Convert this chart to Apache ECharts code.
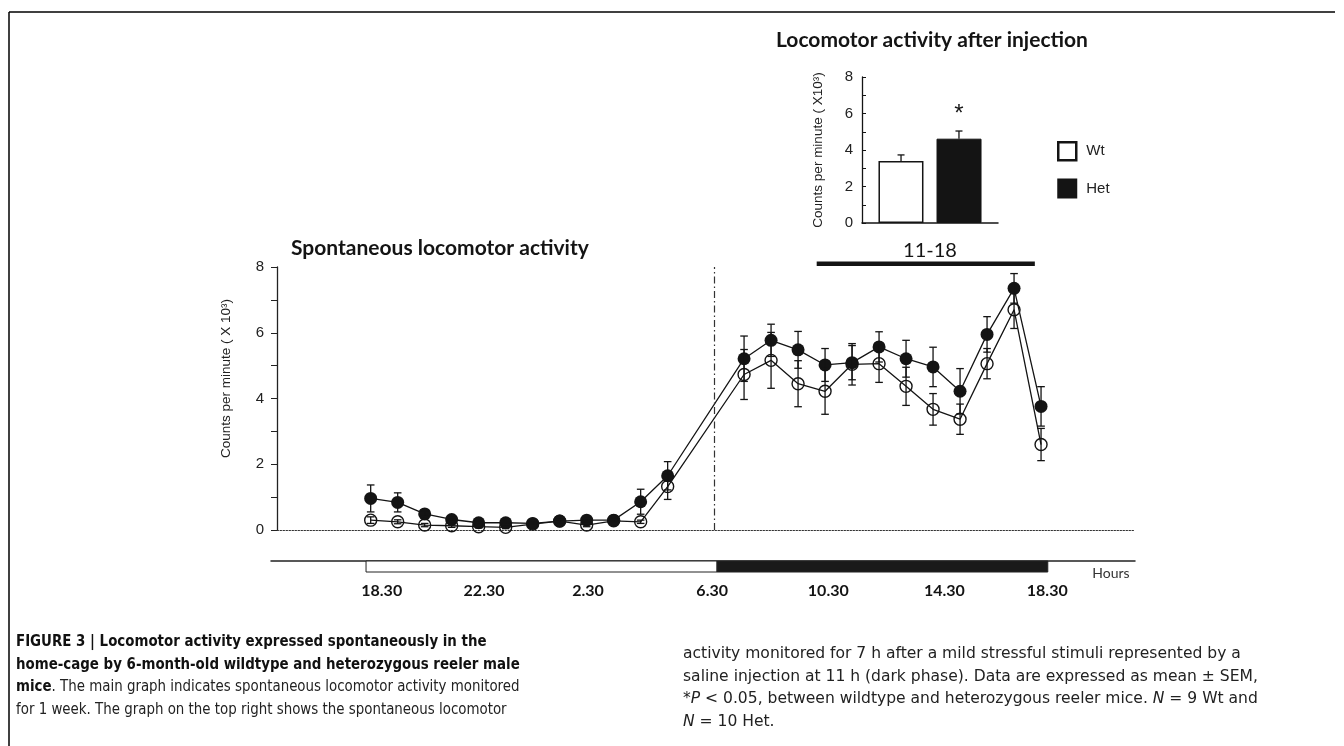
<!DOCTYPE html>
<html><head><meta charset="utf-8">
<script src="https://cdn.jsdelivr.net/npm/echarts@6/dist/echarts.min.js"></script>
<style>html,body{margin:0;padding:0;background:#fff}#c{width:1344px;height:746px}</style>
</head><body><div id="c"></div>
<script>
// ---------- DATA ----------
// plotted time positions (hours on the drawn scale, first point = 0)
const timePoints = [0,1,2,3,4,5,6,7,8,9,10,11, 13.83,14.83,15.83,16.83,17.83,18.83,19.83,20.83,21.83,22.83,23.83,24.83];
const hetMean = [0.96,0.84,0.49,0.32,0.22,0.22,0.20,0.27,0.30,0.30,0.86,1.65, 5.21,5.77,5.48,5.02,5.09,5.57,5.21,4.96,4.22,5.95,7.35,3.76];
const hetSem  = [0.41,0.29,0.08,0.06,0.05,0.05,0.05,0.05,0.05,0.05,0.38,0.43, 0.69,0.49,0.56,0.50,0.52,0.46,0.56,0.60,0.69,0.54,0.45,0.60];
const wtMean  = [0.30,0.25,0.15,0.13,0.10,0.08,0.18,0.27,0.15,0.28,0.25,1.32, 4.73,5.16,4.45,4.22,5.04,5.06,4.37,3.67,3.37,5.06,6.70,2.60];
const wtSem   = [0.10,0.06,0.05,0.05,0.04,0.04,0.04,0.05,0.05,0.04,0.05,0.39, 0.76,0.85,0.70,0.70,0.63,0.57,0.58,0.48,0.46,0.46,0.57,0.49];
const injectionTime = 12.71;          // dash-dot line
const window1118 = [16.52, 24.6];     // 11-18 bar span
const window1118Level = 8.1;
// light/dark phase bar
const phases = [
  {name: 'light', start: -0.17, end: 12.83},
  {name: 'dark',  start: 12.83, end: 25.08}
];
const hourTickAt = [0.41, 4.2, 8.05, 12.65, 16.95, 21.25, 25.06];
const hourTickLabels = ['18.30','22.30','2.30','6.30','10.30','14.30','18.30'];
// inset
const insetCategories = ['11-18'];
const insetGroups = ['Wt','Het'];
const insetMean = [3.40, 4.62];
const insetSem  = [0.33, 0.42];
const insetSig  = ['', '*'];
// ---------- CHART ----------
const chart = echarts.init(document.getElementById('c'), null, {renderer: 'canvas'});
const INK = '#141414';
const sansFont = 'Liberation Sans, Arial, sans-serif';
const titleFont = 'Lato, Open Sans, sans-serif';
const capFont = 'Liberation Sans Narrow, DejaVu Sans Condensed, sans-serif';

function errRender(params, api) {
  const x = api.value(0), lo = api.value(1), hi = api.value(2);
  const a = api.coord([x, lo]), b = api.coord([x, hi]);
  const cap = 3.8;
  const st = {stroke: INK, lineWidth: 1.3};
  return {type: 'group', children: [
    {type: 'line', shape: {x1: a[0], y1: a[1], x2: b[0], y2: b[1]}, style: st},
    {type: 'line', shape: {x1: b[0]-cap, y1: b[1], x2: b[0]+cap, y2: b[1]}, style: st},
    {type: 'line', shape: {x1: a[0]-cap, y1: a[1], x2: a[0]+cap, y2: a[1]}, style: st}
  ]};
}
function insetErrRender(params, api) {
  const cat = api.value(0), m = api.value(1), s = api.value(2), g = api.value(3);
  const band = api.size([1, 0])[0];
  const off = (g === 0 ? -1 : 1) * band * 0.213;
  const a = api.coord([cat, m]), b = api.coord([cat, m + s]);
  const x = a[0] + off;
  const st = {stroke: INK, lineWidth: 1.3};
  const children = [
    {type: 'line', shape: {x1: x, y1: a[1], x2: x, y2: b[1]}, style: st},
    {type: 'line', shape: {x1: x-3.5, y1: b[1], x2: x+3.5, y2: b[1]}, style: st}
  ];
  const sig = insetSig[params.dataIndex];
  if (sig) children.push({type: 'text', x: x, y: b[1] - 17, style: {text: sig, fill: INK, font: '24px ' + sansFont, align: 'center', verticalAlign: 'middle'}});
  return {type: 'group', children};
}

const option = {
  animation: false,
  backgroundColor: '#fff',
  title: [
    {text: 'Spontaneous locomotor activity', left: 291, top: 238, padding: 0,
     textStyle: {fontFamily: titleFont, fontWeight: 'bold', fontSize: 21, color: INK}},
    {text: 'Locomotor activity after injection', left: 776, top: 30, padding: 0,
     textStyle: {fontFamily: titleFont, fontWeight: 'bold', fontSize: 21, color: INK}}
  ],
  legend: {
    orient: 'vertical', left: 1052, top: 136, itemWidth: 18, itemHeight: 18, itemGap: 17, icon: 'rect',
    selectedMode: false,
    textStyle: {fontFamily: sansFont, fontSize: 15, color: '#222', padding: [0, 0, 0, 5]},
    data: [
      {name: 'Wt', itemStyle: {color: '#fff', borderColor: INK, borderWidth: 2.5}},
      {name: 'Het', itemStyle: {color: INK}}
    ]
  },
  grid: [
    {left: 277, right: 209, top: 267, bottom: 216},
    {left: 271, right: 209, top: 561, height: 11},
    {left: 862, right: 346, top: 77, bottom: 523}
  ],
  xAxis: [
    {gridIndex: 0, type: 'value', min: -3.47, max: 28.31,
     axisLine: {show: true, onZero: true, lineStyle: {color: '#333', type: [1.5, 1.5], width: 1}},
     axisTick: {show: false}, axisLabel: {show: false}, splitLine: {show: false}},
    {gridIndex: 1, type: 'value', position: 'top', min: -3.69, max: 28.31,
     axisLine: {show: true, onZero: false, lineStyle: {color: '#222', width: 1.5}},
     axisTick: {show: false}, axisLabel: {show: false}, splitLine: {show: false}},
    {gridIndex: 1, type: 'value', position: 'bottom', min: -3.69, max: 28.31,
     axisLine: {show: false, onZero: false}, axisTick: {show: false}, splitLine: {show: false},
     axisLabel: {show: true, customValues: hourTickAt, margin: 11,
       formatter: v => { const i = hourTickAt.indexOf(v); return i >= 0 ? hourTickLabels[i] : ''; },
       fontFamily: titleFont, fontWeight: 'bold', fontSize: 16, color: INK}},
    {gridIndex: 2, type: 'category', data: insetCategories,
     axisLine: {show: true, lineStyle: {color: INK, width: 1.5}},
     axisTick: {show: false},
     axisLabel: {margin: 18, fontFamily: titleFont, fontSize: 20, color: INK}}
  ],
  yAxis: [
    {gridIndex: 0, type: 'value', min: 0, max: 8, interval: 1,
     name: 'Counts per minute ( X 10³)', nameLocation: 'middle', nameGap: 44, nameRotate: 90,
     nameTextStyle: {fontFamily: sansFont, fontSize: 13.5, color: '#222', padding: [0, 0, 0, 40]},
     axisLine: {show: true, onZero: false, lineStyle: {color: '#222', width: 1.3}},
     axisTick: {show: true, inside: false, length: 6, lineStyle: {color: '#222'}},
     axisLabel: {margin: 13, fontFamily: sansFont, fontSize: 15, color: '#222', formatter: v => v % 2 === 0 ? String(v) : ''},
     splitLine: {show: false}},
    {gridIndex: 1, type: 'value', min: 0, max: 1, show: false},
    {gridIndex: 2, type: 'value', min: 0, max: 8, interval: 1,
     name: 'Counts per minute ( X10³)', nameLocation: 'middle', nameGap: 37, nameRotate: 90,
     nameTextStyle: {fontFamily: sansFont, fontSize: 13.5, color: '#222'},
     axisLine: {show: true, onZero: false, lineStyle: {color: INK, width: 1.3}},
     axisTick: {show: true, inside: true, length: 4, lineStyle: {color: INK}},
     axisLabel: {margin: 9, fontFamily: sansFont, fontSize: 15, color: '#222', formatter: v => v % 2 === 0 ? String(v) : ''},
     splitLine: {show: false}}
  ],
  series: [
    {name: 'Het line', type: 'line', xAxisIndex: 0, yAxisIndex: 0, z: 3,
     data: timePoints.map((t, i) => [t, hetMean[i]]),
     symbol: 'circle', symbolSize: 13,
     itemStyle: {color: INK}, lineStyle: {color: INK, width: 1.3},
     markLine: {silent: true, symbol: 'none', label: {show: false},
       lineStyle: {color: '#333', type: [7, 3, 1.5, 3], width: 1.2},
       data: [{xAxis: injectionTime}]}},
    {name: 'Wt line', type: 'line', xAxisIndex: 0, yAxisIndex: 0, z: 4,
     data: timePoints.map((t, i) => [t, wtMean[i]]),
     symbol: 'circle', symbolSize: 12,
     itemStyle: {color: 'rgba(255,255,255,0)', borderColor: INK, borderWidth: 1.4},
     lineStyle: {color: INK, width: 1.3}},
    {name: 'Het err', type: 'custom', xAxisIndex: 0, yAxisIndex: 0, z: 5, renderItem: errRender,
     data: timePoints.map((t, i) => [t, hetMean[i] - hetSem[i], hetMean[i] + hetSem[i]])},
    {name: 'Wt err', type: 'custom', xAxisIndex: 0, yAxisIndex: 0, z: 5, renderItem: errRender,
     data: timePoints.map((t, i) => [t, wtMean[i] - wtSem[i], wtMean[i] + wtSem[i]])},
    {name: '11-18 window', type: 'line', xAxisIndex: 0, yAxisIndex: 0, clip: false,
     symbol: 'none', lineStyle: {color: INK, width: 4.5},
     data: window1118.map(t => [t, window1118Level])},
    {name: 'phases', type: 'custom', xAxisIndex: 1, yAxisIndex: 1,
     renderItem: (params, api) => {
       const a = api.coord([api.value(0), 1]), b = api.coord([api.value(1), 0]);
       const dark = phases[params.dataIndex].name === 'dark';
       return {type: 'rect', shape: {x: a[0], y: a[1], width: b[0] - a[0], height: b[1] - a[1]},
         style: {fill: dark ? '#1a1a1a' : '#fff', stroke: '#222', lineWidth: 1}};
     },
     data: phases.map(p => [p.start, p.end])},
    {name: 'Wt', type: 'bar', xAxisIndex: 3, yAxisIndex: 2, data: [insetMean[0]],
     barWidth: 45, barGap: '29%', itemStyle: {color: '#fff', borderColor: INK, borderWidth: 1.5}},
    {name: 'Het', type: 'bar', xAxisIndex: 3, yAxisIndex: 2, data: [insetMean[1]],
     barWidth: 45, barGap: '29%', itemStyle: {color: INK, borderColor: INK, borderWidth: 1}},
    {name: 'inset err', type: 'custom', xAxisIndex: 3, yAxisIndex: 2, z: 5, renderItem: insetErrRender,
     data: insetGroups.map((g, i) => [0, insetMean[i], insetSem[i], i])}
  ],
  graphic: [
    {type: 'line', shape: {x1: 9, y1: 12, x2: 1335, y2: 12}, style: {stroke: '#000', lineWidth: 1.5}},
    {type: 'line', shape: {x1: 9, y1: 12, x2: 9, y2: 746}, style: {stroke: '#000', lineWidth: 1.5}},
    {type: 'text', x: 1111, y: 573, style: {text: 'Hours', font: '14px ' + titleFont, fill: '#333', align: 'center', verticalAlign: 'middle'}},
    {type: 'text', x: 16, y: 631, scaleX: 0.93, style: {
      text: '{b|FIGURE 3 | Locomotor activity expressed spontaneously in the}\n{b|home-cage by 6-month-old wildtype and heterozygous reeler male}\n{b|mice}{n|. The main graph indicates spontaneous locomotor activity monitored}\n{n|for 1 week. The graph on the top right shows the spontaneous locomotor}',
      rich: {
        b: {fontFamily: capFont, fontWeight: 'bold', fontSize: 16, lineHeight: 22.5, fill: '#111'},
        n: {fontFamily: capFont, fontSize: 16, lineHeight: 22.5, fill: '#222'}
      }}},
    {type: 'text', x: 683, y: 643, scaleX: 1.08, style: {
      text: '{n|activity monitored for 7 h after a mild stressful stimuli represented by a}\n{n|saline injection at 11 h (dark phase). Data are expressed as mean ± SEM,}\n{n|*}{i|P}{n| < 0.05, between wildtype and heterozygous reeler mice. }{i|N}{n| = 9 Wt and}\n{i|N}{n| = 10 Het.}',
      rich: {
        n: {fontFamily: capFont, fontSize: 16, lineHeight: 22.5, fill: '#222'},
        i: {fontFamily: capFont, fontStyle: 'italic', fontSize: 16, lineHeight: 22.5, fill: '#222'}
      }}}
  ]
};
chart.setOption(option);
</script></body></html>
